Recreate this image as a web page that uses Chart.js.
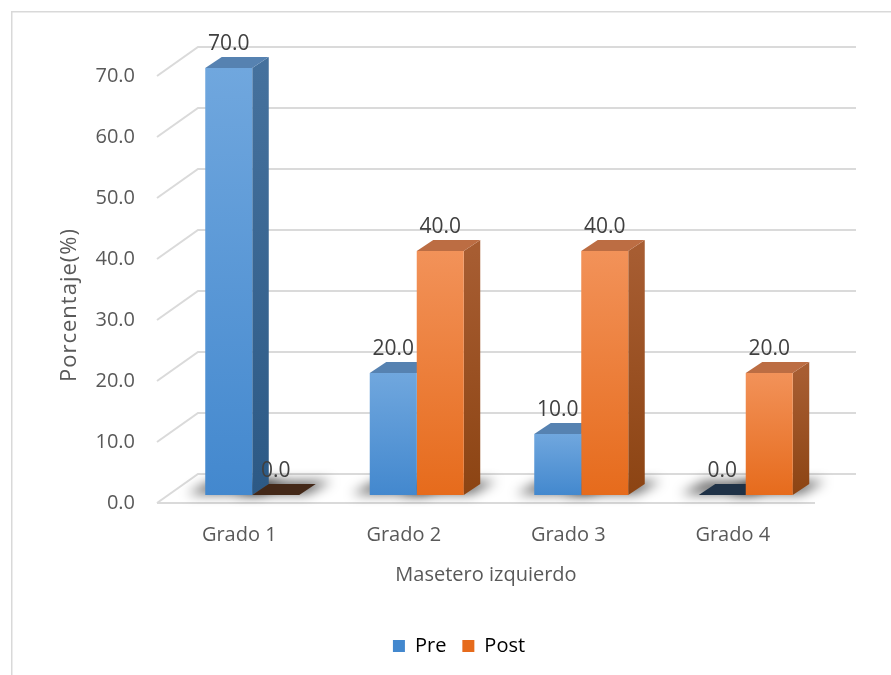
<!DOCTYPE html>
<html lang="es">
<head>
<meta charset="utf-8">
<title>Masetero izquierdo</title>
<script src="https://cdn.jsdelivr.net/npm/chart.js@4.4.0/dist/chart.umd.min.js"></script>
<style>
  html, body { margin: 0; padding: 0; background: #fff; }
  #wrap { width: 891px; height: 675px; }
</style>
</head>
<body>
<div id="wrap"><canvas id="grafico" width="891" height="675"></canvas></div>
<script>
const categorias = ['Grado 1', 'Grado 2', 'Grado 3', 'Grado 4'];
const pre = [70.0, 20.0, 10.0, 0.0];
const post = [0.0, 40.0, 40.0, 20.0];
const ejeMin = 0, ejeMax = 70, ejePaso = 10;

// profundidad de la escena (px): plano de barras, grosor de barra, pared del fondo
const BARRA_DX = 13, BARRA_DY = -8;
const CARA_DX = 16.5, CARA_DY = -11;
const FONDO_DX = 41, FONDO_DY = -29;

const FUENTE = "'Open Sans', sans-serif";
const GRIS = '#595959';

const paletas = {
  pre:  { frente: ['#70a7de', '#4388ce'], lado: ['#45719d', '#2c5985'], tapa: '#5682b1', cero: '#1f3247' },
  post: { frente: ['#f29259', '#e66b1c'], lado: ['#a75d32', '#8c4413'], tapa: '#bc6d43', cero: '#432818' }
};

// degradado vertical de la cara frontal de cada barra
function degradado(c, paleta) {
  const y = c.chart.scales.y;
  if (!y || c.raw == null) return paleta.frente[1];
  const top = y.getPixelForValue(c.raw);
  const base = y.getPixelForValue(0);
  if (base - top < 1) return paleta.frente[1];
  const g = c.chart.ctx.createLinearGradient(0, top, 0, base);
  g.addColorStop(0, paleta.frente[0]);
  g.addColorStop(1, paleta.frente[1]);
  return g;
}

function poligono(ctx, pts) {
  ctx.beginPath();
  ctx.moveTo(pts[0][0], pts[0][1]);
  for (let i = 1; i < pts.length; i++) ctx.lineTo(pts[i][0], pts[i][1]);
  ctx.closePath();
}

const escena3d = {
  id: 'escena3d',
  beforeDraw(chart) {
    const ctx = chart.ctx;
    ctx.save();
    ctx.fillStyle = '#ffffff';
    ctx.fillRect(0, 0, chart.width, chart.height);
    ctx.strokeStyle = '#d9d9d9';
    ctx.lineWidth = 1.5;
    ctx.strokeRect(11.75, 11.75, chart.width + 20, chart.height + 20);
    ctx.restore();
  },
  beforeDatasetsDraw(chart) {
    const ctx = chart.ctx;
    const a = chart.chartArea;
    const y = chart.scales.y;

    // pared lateral, pared del fondo y suelo
    ctx.save();
    ctx.strokeStyle = '#dadada';
    ctx.lineWidth = 2;
    ctx.beginPath();
    y.ticks.forEach(t => {
      const py = y.getPixelForValue(t.value);
      ctx.moveTo(a.left, py);
      ctx.lineTo(a.left + FONDO_DX, py + FONDO_DY);
      ctx.lineTo(a.right + FONDO_DX, py + FONDO_DY);
    });
    const p0 = y.getPixelForValue(0);
    ctx.moveTo(a.left, p0);
    ctx.lineTo(a.right, p0);
    ctx.stroke();
    ctx.restore();

    // las barras se dibujan desplazadas hacia el fondo
    ctx.save();
    ctx.translate(BARRA_DX, BARRA_DY);

    const barras = [];
    chart.data.datasets.forEach((ds, i) => {
      chart.getDatasetMeta(i).data.forEach((el, j) => {
        barras.push({ el, v: ds.data[j], pal: ds.paleta });
      });
    });

    // sombras sobre el suelo
    ctx.save();
    ctx.filter = 'blur(6px)';
    ctx.fillStyle = 'rgba(0,0,0,0.6)';
    barras.forEach(({ el }) => {
      const L = el.x - el.width / 2, R = el.x + el.width / 2, B = el.base;
      poligono(ctx, [[L - 18, B - 1], [R + 8, B - 1], [R + CARA_DX + 16, B + CARA_DY - 3], [L + CARA_DX - 10, B + CARA_DY - 3]]);
      ctx.fill();
    });
    ctx.restore();

    // caras laterales y tapas
    barras.forEach(({ el, v, pal }) => {
      const L = el.x - el.width / 2, R = el.x + el.width / 2, T = el.y, B = el.base;
      if (B - T >= 1) {
        const g = ctx.createLinearGradient(0, T, 0, B);
        g.addColorStop(0, pal.lado[0]);
        g.addColorStop(1, pal.lado[1]);
        ctx.fillStyle = g;
        poligono(ctx, [[R, T], [R + CARA_DX, T + CARA_DY], [R + CARA_DX, B + CARA_DY], [R, B]]);
        ctx.fill();
      }
      ctx.fillStyle = v === 0 ? pal.cero : pal.tapa;
      poligono(ctx, [[L, T], [R, T], [R + CARA_DX, T + CARA_DY], [L + CARA_DX, T + CARA_DY]]);
      ctx.fill();
    });
  },
  afterDatasetsDraw(chart) {
    const ctx = chart.ctx;
    // etiquetas de valor
    ctx.font = '21px ' + FUENTE;
    ctx.fillStyle = '#404040';
    ctx.textAlign = 'center';
    ctx.textBaseline = 'middle';
    chart.data.datasets.forEach((ds, i) => {
      chart.getDatasetMeta(i).data.forEach((el, j) => {
        ctx.fillText(ds.data[j].toFixed(1), el.x, el.y - 24);
      });
    });
    ctx.restore();
  },
  afterDraw(chart) {
    // título del eje vertical
    const ctx = chart.ctx;
    ctx.save();
    ctx.translate(70, 305);
    ctx.rotate(-Math.PI / 2);
    ctx.font = '22px ' + FUENTE;
    ctx.letterSpacing = '1px';
    ctx.fillStyle = GRIS;
    ctx.textAlign = 'center';
    ctx.textBaseline = 'middle';
    ctx.fillText('Porcentaje(%)', 0, 0);
    ctx.restore();
  }
};

new Chart(document.getElementById('grafico'), {
  type: 'bar',
  data: {
    labels: categorias,
    datasets: [
      { label: 'Pre', data: pre, paleta: paletas.pre,
        backgroundColor: c => degradado(c, paletas.pre) },
      { label: 'Post', data: post, paleta: paletas.post,
        backgroundColor: c => degradado(c, paletas.post) }
    ]
  },
  options: {
    responsive: false,
    animation: false,
    categoryPercentage: 0.5714,
    barPercentage: 1.0,
    borderWidth: 0,
    layout: { padding: { left: 27, right: 0, top: 76, bottom: 9 } },
    plugins: {
      tooltip: { enabled: false },
      legend: {
        position: 'bottom',
        labels: {
          boxWidth: 12, boxHeight: 12, padding: 16, color: GRIS,
          font: { family: FUENTE, size: 20 },
          generateLabels: chart => chart.data.datasets.map((ds, i) => ({
            text: ds.label,
            fillStyle: ds.paleta.frente[1],
            strokeStyle: ds.paleta.frente[1],
            lineWidth: 0,
            datasetIndex: i
          }))
        }
      }
    },
    scales: {
      x: {
        grid: { display: false, drawTicks: false },
        border: { display: false },
        ticks: { color: GRIS, font: { family: FUENTE, size: 20 }, padding: 20 },
        title: { display: true, text: 'Masetero izquierdo', color: GRIS,
                 font: { family: FUENTE, size: 20 }, padding: { top: 4, bottom: 33 } },
        afterFit(s) { s.height = 117; }
      },
      y: {
        min: ejeMin, max: ejeMax,
        grid: { display: false, drawTicks: false },
        border: { display: false },
        ticks: { stepSize: ejePaso, padding: 22, color: GRIS,
                 font: { family: FUENTE, size: 20 },
                 callback: v => v.toFixed(1) },
        afterFit(s) { s.width = 130; }
      },
      // margen derecho reservado para la pared del fondo
      margen: {
        position: 'right',
        grid: { display: false, drawTicks: false },
        border: { display: false },
        ticks: { display: false },
        afterFit(s) { s.width = 76; }
      }
    }
  },
  plugins: [escena3d]
});
</script>
</body>
</html>
